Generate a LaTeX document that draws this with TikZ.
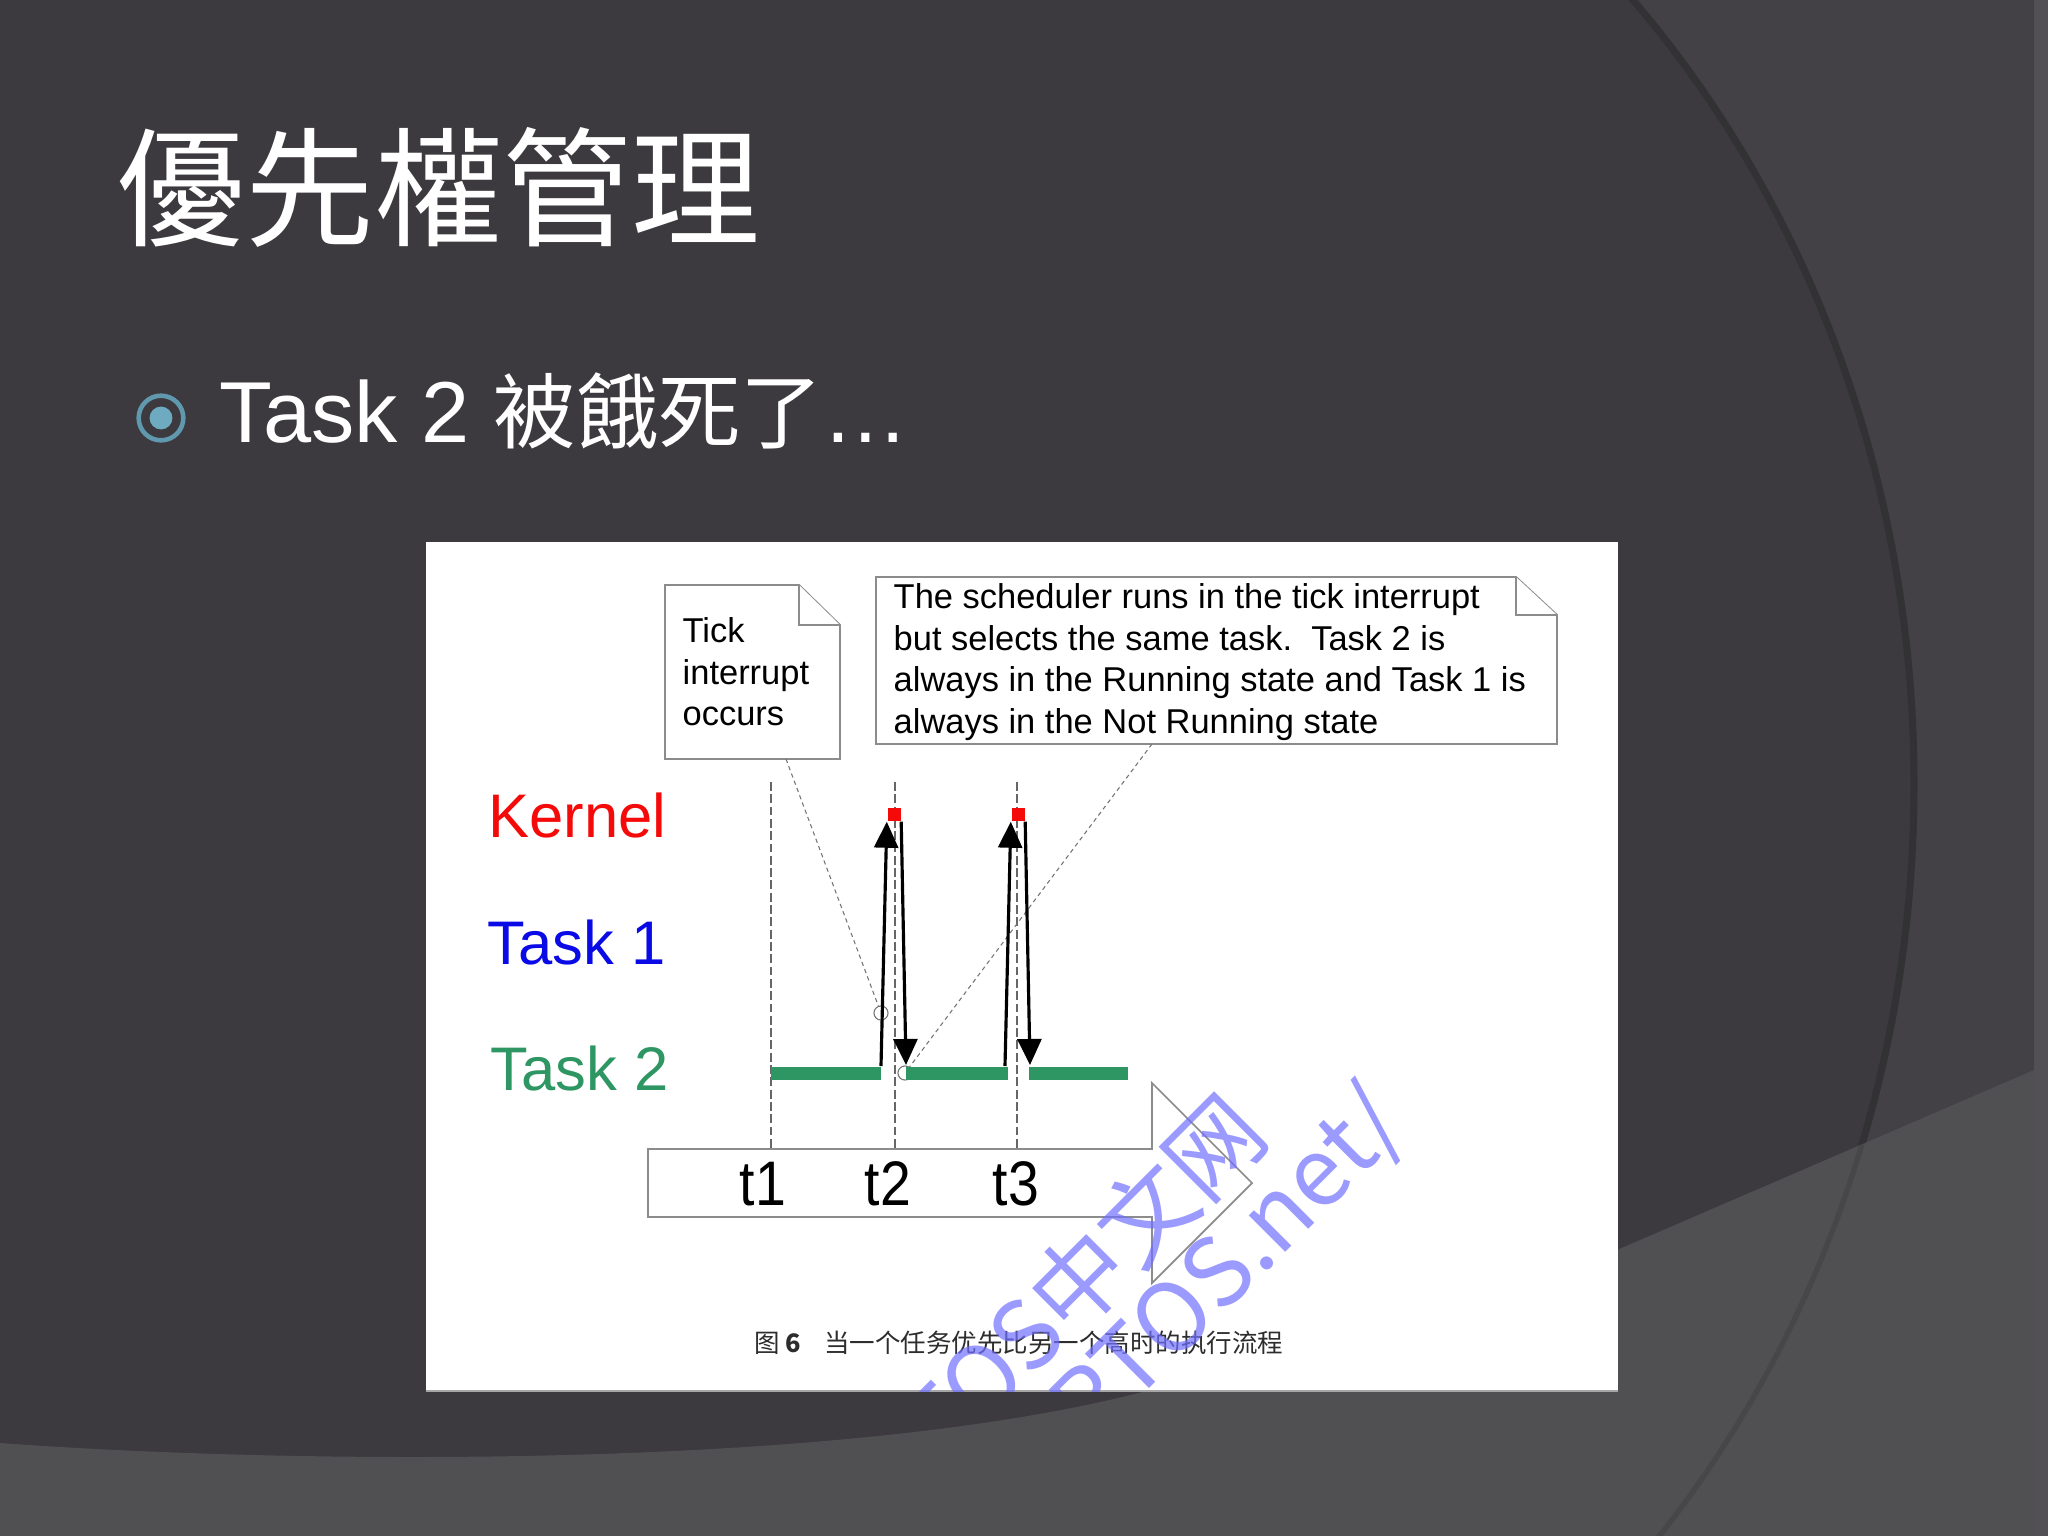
\documentclass[tikz,border=0pt]{standalone}
\usepackage{fontspec}
\setmainfont{Liberation Sans}
\newfontfamily\cjktc{Noto Sans CJK TC}
\newfontfamily\cjksc{Noto Sans CJK SC}
\newfontfamily\narrowsans{Liberation Sans}[FakeStretch=0.88]
\usetikzlibrary{arrows.meta}
\definecolor{bgin}{RGB}{60,58,62}
\definecolor{bgout}{RGB}{67,65,69}
\definecolor{bgrim}{RGB}{50,49,52}
\definecolor{bgband}{RGB}{80,79,82}
\definecolor{bandline}{RGB}{71,70,73}
\definecolor{ringc}{RGB}{96,152,174}
\definecolor{dotc}{RGB}{110,170,192}
\definecolor{kred}{RGB}{245,10,10}
\definecolor{tblue}{RGB}{10,10,230}
\definecolor{tgreen}{RGB}{46,150,98}
\definecolor{notegray}{RGB}{140,140,140}
\definecolor{wmblue}{RGB}{112,112,255}
\definecolor{captc}{RGB}{45,45,45}
\tikzset{
  notebox/.style={draw=notegray, fill=white, line width=0.55pt},
  notetext/.style={inner sep=0pt, align=left, font=\fontsize{9.8}{11.8}\selectfont, text=black},
  lbl/.style={inner sep=0pt, font=\fontsize{17.5}{20}\selectfont},
  tlbl/.style={inner sep=0pt, font=\narrowsans\fontsize{17.9}{20}\selectfont, text=black},
  vdash/.style={draw=black!60, line width=0.6pt, dash pattern=on 2.5pt off 1pt},
  callout/.style={draw=black!55, line width=0.3pt, dash pattern=on 1.2pt off 1pt},
  segbar/.style={fill=tgreen},
  kbox/.style={fill=kred, inner sep=0pt, minimum size=3.7pt},
  flowarrow/.style={draw=black, line width=0.9pt, -{Triangle[length=7.4pt,width=6.8pt]}},
  endcirc/.style={circle, draw=black!55, line width=0.3pt, inner sep=0pt, minimum size=4pt},
  wmark/.style={inner sep=0pt, text=wmblue, opacity=0.7, font=\cjksc\fontsize{27}{30}\selectfont},
}
\begin{document}
\begin{tikzpicture}[x=0.01cm, y=-0.01cm]
\useasboundingbox (0,0) rectangle (2048,1536);
% background
\fill[bgout] (0,0) rectangle (2048,1536);
\fill[bgin] (0,0) rectangle (1400,1536);
\fill[bgin] (914,784) ellipse [x radius=1000, y radius=1128];
\begin{scope}
  \clip (1300,0) rectangle (2048,1536);
  \draw[bgrim, line width=2pt] (914,784) ellipse [x radius=1000, y radius=1128];
\end{scope}
\fill[bgband] (0,1443) .. controls (300,1465) and (850,1470) .. (1150,1390) -- (1617,1250) -- (2048,1064) -- (2048,1536) -- (0,1536) -- cycle;
\begin{scope}
  \clip (0,1443) .. controls (300,1465) and (850,1470) .. (1150,1390) -- (1617,1250) -- (2048,1064) -- (2048,1536) -- (0,1536) -- cycle;
  \clip (1300,0) rectangle (2048,1536);
  \draw[bandline, line width=1.5pt] (914,784) ellipse [x radius=1000, y radius=1128];
\end{scope}
\fill[bgout!92!white] (2034,0) rectangle (2048,1536);

% title and bullet
\node[inner sep=0pt, anchor=base west, text=white, font=\cjktc\fontsize{36.6}{40}\selectfont] (title) at (116,236) {優先權管理};
\node[circle, draw=ringc, line width=1.3pt, minimum size=12.7pt, inner sep=0pt] (bul) at (161,418) {};
\node[circle, fill=dotc, minimum size=6.5pt, inner sep=0pt] (buldot) at (bul.center) {};
\node[inner sep=0pt, anchor=base west, text=white, font=\fontsize{24.6}{28}\selectfont] (sub) at (219,442) {Task 2 {\cjktc\fontsize{23.4}{28}\selectfont 被餓死了}…};

% panel
\fill[white] (426,542) rectangle (1618,1391);
\draw[black!35, line width=0.6pt] (426,1391) -- (1618,1391);

% notes
\filldraw[notebox] (665,585) -- (799,585) -- (840,625) -- (840,759) -- (665,759) -- cycle;
\draw[notebox] (799,585) -- (799,625) -- (840,625);
\node[notetext, anchor=north west] (tickTxt) at (682,617) {Tick\\interrupt\\occurs};
\filldraw[notebox] (876,577) -- (1516,577) -- (1557,615) -- (1557,744) -- (876,744) -- cycle;
\draw[notebox] (1516,577) -- (1516,615) -- (1557,615);
\node[notetext, anchor=north west] (schedTxt) at (893,583) {The scheduler runs in the tick interrupt\\but selects the same task.\ \ Task 2 is\\always in the Running state and Task 1 is\\always in the Not Running state};

% row labels
\node[lbl, text=kred, anchor=base east] (kernel) at (667,837) {Kernel};
\node[lbl, text=tblue, anchor=base east] (task1) at (666,964) {Task 1};
\node[lbl, text=tgreen, anchor=base east] (task2) at (669,1090) {Task 2};

% time axis block arrow
\filldraw[draw=black!45, fill=white, line width=0.5pt] (648,1149) -- (1152,1149) -- (1152,1083) -- (1252,1183) -- (1152,1283) -- (1152,1217) -- (648,1217) -- cycle;
\node[tlbl, anchor=base] (t1) at (763,1205) {t1};
\node[tlbl, anchor=base] (t2) at (888,1205) {t2};
\node[tlbl, anchor=base] (t3) at (1016,1205) {t3};

% dashed time lines
\coordinate (d1a) at (771,782); \coordinate (d1b) at (771,1149);
\coordinate (d2a) at (895,782); \coordinate (d2b) at (895,1149);
\coordinate (d3a) at (1017,782); \coordinate (d3b) at (1017,1149);
\draw[vdash] (d1a) -- (d1b);
\draw[vdash] (d2a) -- (d2b);
\draw[vdash] (d3a) -- (d3b);

% callout pointers
\coordinate (tickTail) at (786,759);
\node[endcirc] (tickEnd) at (881,1013) {};
\draw[callout] (tickTail) -- (tickEnd);
\coordinate (schedTail) at (1152,744);
\node[endcirc] (schedEnd) at (905,1073) {};
\draw[callout] (schedTail) -- (schedEnd);

% Task 2 running bars
\fill[segbar] (771,1067) rectangle (881,1080);
\fill[segbar] (906,1067) rectangle (1008,1080);
\fill[segbar] (1029,1067) rectangle (1128,1080);

% kernel ticks
\node[kbox] (k2) at (894,814.5) {};
\node[kbox] (k3) at (1018,814.5) {};
\coordinate (b1e) at (881,1066);
\coordinate (b2s) at (906,1065);
\coordinate (b2e) at (1005,1066);
\coordinate (b3s) at (1030,1065);
\draw[flowarrow] (b1e) -- (k2.south west);
\draw[flowarrow] (k2.south east) -- (b2s);
\draw[flowarrow] (b2e) -- (k3.south west);
\draw[flowarrow] (k3.south east) -- (b3s);

% caption
\node[inner sep=0pt, anchor=west, text=captc, font=\cjksc\fontsize{7.25}{9}\selectfont] (cap) at (754,1343) {图 {\bfseries 6}\hspace{0.9em}当一个任务优先比另一个高时的执行流程};

% watermark
\begin{scope}
  \clip (426,542) rectangle (1618,1391);
  \node[wmark, rotate=45, anchor=east] (wm1) at (1247,1112) {FreeRTOS中文网};
  \node[wmark, rotate=45, anchor=base east] (wm2) at (1410,1128) {http://www.FreeRTOS.net/};
\end{scope}
\end{tikzpicture}
\end{document}
